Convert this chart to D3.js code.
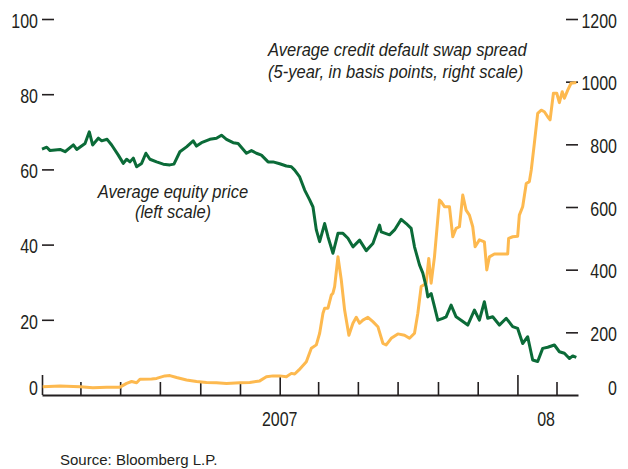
<!DOCTYPE html>
<html>
<head>
<meta charset="utf-8">
<script src="https://cdn.jsdelivr.net/npm/d3@7"></script>
<style>
  html, body { margin: 0; padding: 0; background: #fff; }
  svg { display: block; }
  text { font-family: "Liberation Sans", Arial, sans-serif; fill: #231f20; }
</style>
</head>
<body>
<svg id="chart" width="628" height="469"></svg>
<script>
// ---- data (time as decimal years) ----
const equityTime = [2006.000,2006.020,2006.034,2006.076,2006.097,2006.132,2006.146,2006.181,2006.199,2006.213,2006.237,2006.251,2006.274,2006.293,2006.321,2006.342,2006.356,2006.370,2006.384,2006.398,2006.419,2006.437,2006.454,2006.482,2006.510,2006.538,2006.555,2006.580,2006.608,2006.636,2006.650,2006.671,2006.706,2006.734,2006.755,2006.776,2006.804,2006.825,2006.860,2006.881,2006.902,2006.923,2006.951,2006.972,2007.000,2007.028,2007.049,2007.063,2007.084,2007.105,2007.126,2007.140,2007.154,2007.168,2007.189,2007.203,2007.224,2007.245,2007.266,2007.287,2007.308,2007.336,2007.364,2007.392,2007.420,2007.427,2007.462,2007.483,2007.511,2007.532,2007.553,2007.567,2007.588,2007.602,2007.616,2007.623,2007.637,2007.651,2007.665,2007.686,2007.700,2007.721,2007.742,2007.763,2007.791,2007.819,2007.840,2007.861,2007.875,2007.896,2007.924,2007.953,2007.980,2008.001,2008.022,2008.043,2008.064,2008.085,2008.106,2008.127,2008.155,2008.176,2008.197,2008.218,2008.232,2008.247];
const equityPrice = [65.4,65.9,65.0,65.3,64.7,66.5,65.3,66.9,70.0,66.5,68.3,67.6,68.0,66.5,63.8,61.6,62.7,62.0,63.0,60.7,61.6,64.3,62.7,62.0,61.4,61.2,61.4,64.7,66.0,67.6,66.2,67.1,68.0,68.3,69.1,68.0,67.1,66.9,64.3,65.0,64.3,63.8,62.0,62.0,61.5,60.9,60.7,59.8,58.0,54.5,51.9,50.0,43.9,40.8,45.6,42.1,37.7,43.0,43.0,41.7,39.4,41.2,38.4,40.3,45.2,43.4,42.6,43.9,46.7,45.6,44.3,39.4,34.6,32.4,28.8,26.1,27.0,23.5,19.9,20.4,20.8,23.9,20.8,19.9,18.6,22.6,19.9,24.8,20.4,20.8,18.6,20.4,18.2,17.7,13.7,15.5,9.3,8.9,12.4,12.7,13.3,11.5,11.1,9.7,10.4,10.0];

const cdsTime = [2006.003,2006.076,2006.160,2006.214,2006.272,2006.328,2006.356,2006.377,2006.398,2006.412,2006.461,2006.482,2006.517,2006.538,2006.566,2006.608,2006.650,2006.692,2006.734,2006.776,2006.832,2006.874,2006.916,2006.944,2006.972,2007.000,2007.028,2007.049,2007.063,2007.081,2007.112,2007.133,2007.154,2007.168,2007.182,2007.189,2007.203,2007.217,2007.224,2007.231,2007.245,2007.259,2007.273,2007.291,2007.308,2007.322,2007.336,2007.350,2007.371,2007.392,2007.413,2007.434,2007.448,2007.469,2007.497,2007.525,2007.546,2007.567,2007.581,2007.595,2007.616,2007.627,2007.637,2007.651,2007.672,2007.679,2007.693,2007.714,2007.728,2007.742,2007.756,2007.770,2007.784,2007.798,2007.812,2007.822,2007.840,2007.861,2007.871,2007.882,2007.903,2007.959,2007.963,2007.980,2008.001,2008.008,2008.022,2008.037,2008.050,2008.058,2008.071,2008.085,2008.100,2008.113,2008.127,2008.137,2008.151,2008.165,2008.176,2008.188,2008.197,2008.211,2008.225,2008.247];
const cdsSpread = [26,29,26,23,25,25,37,43,39,50,51,53,61,62,56,48,43,40,39,37,39,40,45,58,61,61,58,69,67,80,106,149,160,197,261,277,277,319,325,346,441,367,271,191,229,248,229,239,248,234,218,165,160,181,195,191,181,197,261,346,356,436,357,441,622,617,601,601,505,532,537,638,590,574,537,473,495,489,399,441,450,450,500,505,507,574,601,675,681,718,803,899,909,904,888,878,963,963,933,968,947,973,995,997];

const leftTicks = [0, 20, 40, 60, 80, 100];
const rightTicks = [0, 200, 400, 600, 800, 1000, 1200];
const xLabels = [{ t: 2007.0, label: "2007" }, { t: 2008.12, label: "08" }];

const equityTitle = ["Average equity price", "(left scale)"];
const cdsTitle = ["Average credit default swap spread", "(5-year, in basis points, right scale)"];
const sourceText = "Source: Bloomberg L.P.";

// ---- helpers ----
function toDate(t) {
  const y = Math.floor(t);
  const a = new Date(y, 0, 1), b = new Date(y + 1, 0, 1);
  return new Date(+a + (t - y) * (b - a));
}
const SX = 0.82;   // condensed look for tick labels
const SXA = 0.87;  // annotations
function squeeze(sel) {
  sel.each(function () {
    const el = d3.select(this);
    const xv = +(el.attr("x") || 0);
    el.attr("x", xv / SX).attr("transform", `scale(${SX},1)`);
  });
}

const svg = d3.select("#chart");
const green = "#0b6b38", orange = "#fdb94f", ink = "#231f20";

const x = d3.scaleTime()
  .domain([new Date(2006, 0, 1), new Date(2008, 3, 3)])
  .range([42, 578]);
const yL = d3.scaleLinear().domain([0, 100]).range([395, 19]);
const yR = d3.scaleLinear().domain([0, 1200]).range([395, 19]);

// ---- x axis ----
const xAxis = d3.axisBottom(x)
  .tickValues(d3.timeMonth.every(2).range(new Date(2006, 0, 1), new Date(2008, 3, 2)))
  .tickSizeInner(-13).tickSizeOuter(0).tickFormat("");
const gx = svg.append("g").attr("transform", "translate(0,395)").call(xAxis);
gx.select(".domain").attr("stroke", ink).attr("stroke-width", 2);
gx.selectAll(".tick line").attr("stroke", ink).attr("stroke-width", 1.6)
  .attr("y2", d => d.getMonth() === 0 ? -20 : -13);

svg.append("g").selectAll("g").data(xLabels).join("g")
  .attr("transform", d => `translate(${x(toDate(d.t))},426) scale(${SX},1)`)
  .append("text")
  .attr("text-anchor", "middle")
  .attr("font-size", 19.5)
  .text(d => d.label);

// ---- left axis ----
const gl = svg.append("g").attr("transform", "translate(54,0)")
  .call(d3.axisLeft(yL).tickValues(leftTicks).tickSize(12).tickPadding(4).tickFormat(d3.format("d")));
gl.attr("font-family", null).attr("font-size", null);
gl.select(".domain").remove();
gl.selectAll(".tick line").attr("stroke", ink).attr("stroke-width", 1.6)
  .attr("display", d => d === 0 ? "none" : null);
gl.selectAll(".tick text").attr("font-size", 19.5).attr("fill", ink)
  .attr("dy", d => d === 0 ? "-0.05em" : "0.42em")
  .call(squeeze);

// ---- right axis ----
const gr = svg.append("g").attr("transform", "translate(566,0)")
  .call(d3.axisRight(yR).tickValues(rightTicks).tickSize(12).tickFormat(d3.format("d")));
gr.attr("font-family", null).attr("font-size", null);
gr.select(".domain").remove();
gr.selectAll(".tick line").attr("stroke", ink).attr("stroke-width", 1.6)
  .attr("display", d => d === 0 ? "none" : null);
gr.selectAll(".tick text").attr("font-size", 19.5).attr("fill", ink)
  .attr("text-anchor", "end").attr("x", 51)
  .attr("dy", d => d === 0 ? "-0.05em" : "0.42em")
  .call(squeeze);

// ---- lines ----
const cdsData = cdsTime.map((t, i) => ({ d: toDate(t), v: cdsSpread[i] }));
const eqData = equityTime.map((t, i) => ({ d: toDate(t), v: equityPrice[i] }));

svg.append("path").datum(cdsData)
  .attr("fill", "none").attr("stroke", orange).attr("stroke-width", 3)
  .attr("stroke-linejoin", "round")
  .attr("d", d3.line().x(d => x(d.d)).y(d => yR(d.v)));

svg.append("path").datum(eqData)
  .attr("fill", "none").attr("stroke", green).attr("stroke-width", 3)
  .attr("stroke-linejoin", "round")
  .attr("d", d3.line().x(d => x(d.d)).y(d => yL(d.v)));

// ---- annotations ----
svg.append("g").attr("transform", `translate(268,56) scale(${SXA},1)`)
  .append("text")
  .attr("font-size", 19).attr("font-style", "italic")
  .selectAll("tspan").data(cdsTitle).join("tspan")
  .attr("x", 0).attr("dy", (d, i) => i === 0 ? 0 : 22).text(d => d);

svg.append("g").attr("transform", `translate(173,198) scale(${SXA},1)`)
  .append("text")
  .attr("font-size", 19).attr("font-style", "italic").attr("text-anchor", "middle")
  .selectAll("tspan").data(equityTitle).join("tspan")
  .attr("x", 0).attr("dy", (d, i) => i === 0 ? 0 : 20).text(d => d);

svg.append("g").attr("transform", `translate(60,465) scale(0.97,1)`)
  .append("text").attr("font-size", 15.5).text(sourceText);
</script>
</body>
</html>
